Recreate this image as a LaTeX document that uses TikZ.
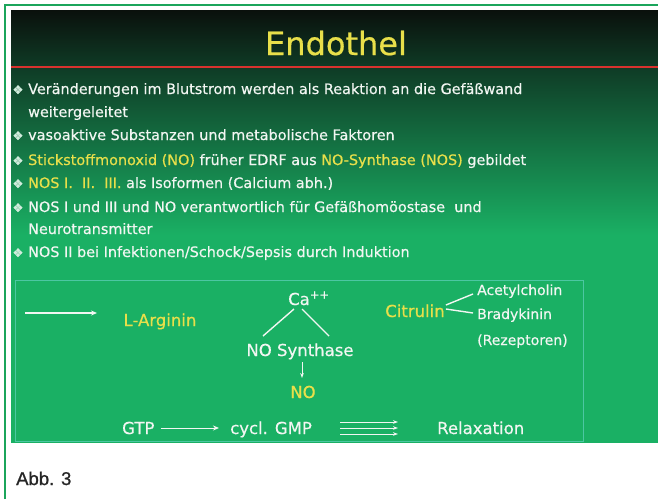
\documentclass[tikz,border=0pt]{standalone}
\usepackage{xcolor}
\usepackage{fontspec}
\setmainfont[FakeBold=0.5]{DejaVu Sans}
\newfontfamily\capfont[FakeBold=0.8]{Liberation Sans}
\usepackage{tikz}
\usetikzlibrary{calc}
\usetikzlibrary{arrows.meta}

\definecolor{frame}{HTML}{1BA55B}
\definecolor{slide}{HTML}{1AB064}
\definecolor{topdark}{HTML}{0A100C}
\definecolor{middark}{HTML}{0F3C26}
\definecolor{ylw}{HTML}{E8DF4A}
\definecolor{wht}{HTML}{F2F6F2}
\definecolor{boxline}{HTML}{4CC7A2}
\definecolor{redline}{HTML}{D8322E}

\begin{document}
\begin{tikzpicture}[x=1pt, y=-1pt,
    txt/.style={anchor=base west, inner sep=0, text=wht, font=\fontsize{14.4}{16}\selectfont},
    bul/.style={anchor=base, inner sep=0, text=wht!85!slide, font=\fontsize{12}{14}\selectfont},
    lab/.style={anchor=base, inner sep=0, text=wht, font=\fontsize{16.5}{18}\selectfont},
    sml/.style={anchor=base west, inner sep=0, text=wht, font=\fontsize{14}{16}\selectfont},
    ln/.style={draw=wht, line width=1.4pt},
    arr/.style={draw=wht, line width=1.4pt, -{Stealth[length=6pt,width=5pt]}},
    thr/.style={draw=wht, line width=1pt, -{Stealth[length=5pt,width=3.6pt]}}]
        \useasboundingbox (0,0) rectangle (658,499);
        \fill[white] (0,0) rectangle (658,499);

        % Frame and slide background
        \draw[frame, line width=2pt] (5,499) -- (5,5) -- (658,5);
        \shade[top color=topdark, bottom color=middark] (11,10) rectangle (658,68);
        \shade[top color=middark, bottom color=slide] (11,68) rectangle (658,235);
        \fill[slide] (11,235) rectangle (658,443);
        \draw[redline, line width=1.3pt] (11,67) -- (658,67);

        % Title
        \draw (336,55) node(title) [anchor=base, inner sep=0, text=ylw, font=\fontsize{32}{36}\selectfont] {Endothel};

        % Bullets
        \draw (18,94)  node(b1) [bul] {❖};
        \draw (28,94)  node(t1) [txt] {Veränderungen im Blutstrom werden als Reaktion an die Gefäßwand};
        \draw (28,117) node(t1b) [txt] {weitergeleitet};
        \draw (18,140) node(b2) [bul] {❖};
        \draw (28,140) node(t2) [txt] {vasoaktive Substanzen und metabolische Faktoren};
        \draw (18,165) node(b3) [bul] {❖};
        \draw (28,165) node(t3) [txt] {\textcolor{ylw}{Stickstoffmonoxid (NO)} früher EDRF aus \textcolor{ylw}{NO-Synthase (NOS)} gebildet};
        \draw (18,188) node(b4) [bul] {❖};
        \draw (28,188) node(t4) [txt] {\textcolor{ylw}{NOS I.\ \ II.\ \ III.} als Isoformen (Calcium abh.)};
        \draw (18,212) node(b5) [bul] {❖};
        \draw (28,212) node(t5) [txt] {NOS I und III und NO verantwortlich für Gefäßhomöostase\ \ und};
        \draw (28,234) node(t5b) [txt] {Neurotransmitter};
        \draw (18,257) node(b6) [bul] {❖};
        \draw (28,257) node(t6) [txt] {NOS II bei Infektionen/Schock/Sepsis durch Induktion};

        % Diagram box
        \draw[boxline, line width=0.8pt] (15,280) rectangle (583,441);

        % Nodes
        \draw (160,326) node(larg) [lab, text=ylw] {L-Arginin};
        \draw (288,305) node(ca) [lab, anchor=base west] {Ca\textsuperscript{++}};
        \draw (300,356) node(nos) [lab] {NO Synthase};
        \draw (303,398) node(no) [lab, text=ylw] {NO};
        \draw (415,317) node(cit) [lab, text=ylw] {Citrulin};
        \draw (477,295) node(ach) [sml] {Acetylcholin};
        \draw (477,319) node(bk) [sml] {Bradykinin};
        \draw (477,345) node(rez) [sml] {(Rezeptoren)};
        \draw (122,434) node(gtp) [lab, anchor=base west] {GTP};
        \draw (230,434) node(gmp) [lab, anchor=base west] {cycl. GMP};
        \draw (437,434) node(relax) [lab, anchor=base west] {Relaxation};
        \coordinate (src) at (25,313);
        \coordinate (srcend) at (97,313);

        % Edges
        \path[arr] (src) -- (srcend);
        \path[ln] ($(ca.base west)+(6,4)$) -- ($(nos.base)+(-37,-20)$);
        \path[ln] ($(ca.base west)+(14,4)$) -- ($(nos.base)+(29,-20)$);
        \path[thr] ($(nos.base)+(2,6)$) -- ($(no.base)+(-1,-20)$);
        \path[ln] ($(cit.base east)+(1,-12)$) -- ($(ach.base west)+(-4,-1)$);
        \path[ln] ($(cit.base east)+(1,-8)$) -- ($(bk.base west)+(-4,-6)$);
        \path[arr, line width=1pt] ($(gtp.base east)+(6,-6)$) -- ($(gmp.base west)+(-11,-6)$);
        \path[thr] ($(gmp.base east)+(28,-12)$) -- ($(relax.base west)+(-39,-12)$);
        \path[thr] ($(gmp.base east)+(28,-6)$) -- ($(relax.base west)+(-39,-6)$);
        \path[thr] ($(gmp.base east)+(28,0)$) -- ($(relax.base west)+(-39,0)$);

        % Caption
        \draw (16,485) node(abb) [anchor=base west, inner sep=0, text=black!85, font=\capfont\fontsize{18.5}{21}\selectfont] {Abb. 3};
\end{tikzpicture}
\end{document}
